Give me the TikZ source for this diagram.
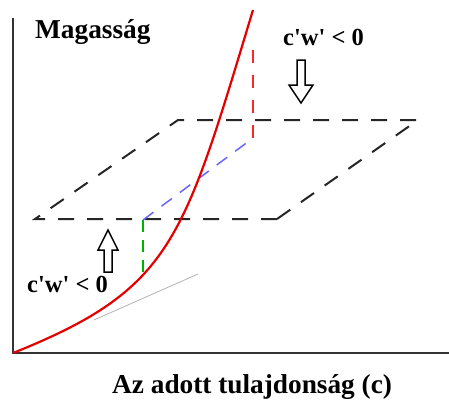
\documentclass[tikz,border=0pt]{standalone}
\usepackage{fontspec}
\setmainfont{Liberation Serif}[Ligatures=TeXOff]
\begin{document}
\begin{tikzpicture}[x=1pt,y=-1pt,
  axisline/.style={line width=1.6pt, black!80},
  plane/.style={line width=2pt, black!85, dash pattern=on 16pt off 13pt},
  curve/.style={line width=2.2pt, red!90!black, line join=round},
  reddash/.style={line width=1.5pt, red!85, dash pattern=on 13pt off 12pt},
  bluedash/.style={line width=1.5pt, blue!60, dash pattern=on 13pt off 10pt},
  greendash/.style={line width=1.5pt, green!70!black, dash pattern=on 12pt off 8pt},
  tangent/.style={line width=0.8pt, black!30},
  hollow/.style={line width=1.5pt, black, fill=white, line join=miter},
  lbl/.style={font=\fontsize{27.3}{30}\selectfont\bfseries, inner sep=0pt, anchor=base west},
  smalllbl/.style={font=\fontsize{24.5}{26}\selectfont\bfseries, inner sep=0pt, anchor=base west}]
\useasboundingbox (0,0) rectangle (449,399);
% axes
\coordinate (O) at (13,353);
\coordinate (Ytop) at (13,18);
\coordinate (Xend) at (449,353);
\draw[axisline] (Ytop) -- (O) -- (Xend);
% parallelogram
\coordinate (P1) at (277,219);
\coordinate (P2) at (35,219);
\coordinate (P3) at (178,120);
\coordinate (P4) at (418,120);
\draw[plane] (P1) -- (P2) -- (P3) -- (P4) -- (P1);
% tangent
\coordinate (T1) at (94,320);
\coordinate (T2) at (198,274);
\draw[tangent] (T1) -- (T2);
% dashed helpers
\coordinate (G1) at (143,220);
\coordinate (G2) at (143,272);
\coordinate (B2) at (253,138);
\coordinate (R2) at (253,48);
\draw[greendash] (G1) -- (G2);
\draw[bluedash] (G1) -- (B2);
\draw[reddash] (B2) -- (R2);
% red curve
\coordinate (C0) at (13,353);
\coordinate (C3) at (253,10);
\draw[curve] (C0) .. controls (173,289) and (183,241) .. (C3);
% hollow arrows
\draw[hollow] (297,60) -- (305,60) -- (305,85) -- (313,85) -- (301,103) -- (289,85) -- (297,85) -- cycle;
\draw[hollow] (104,272) -- (112,272) -- (112,250) -- (118,250) -- (108,230) -- (98,250) -- (104,250) -- cycle;
% labels
\node[lbl] (ylab) at (35,38) {Magasság};
\node[lbl] (xlab) at (112,393) {Az adott tulajdonság (c)};
\node[smalllbl] (up) at (283,45) {c'w' < 0};
\node[smalllbl] (low) at (27,292) {c'w' < 0};
\end{tikzpicture}
\end{document}
